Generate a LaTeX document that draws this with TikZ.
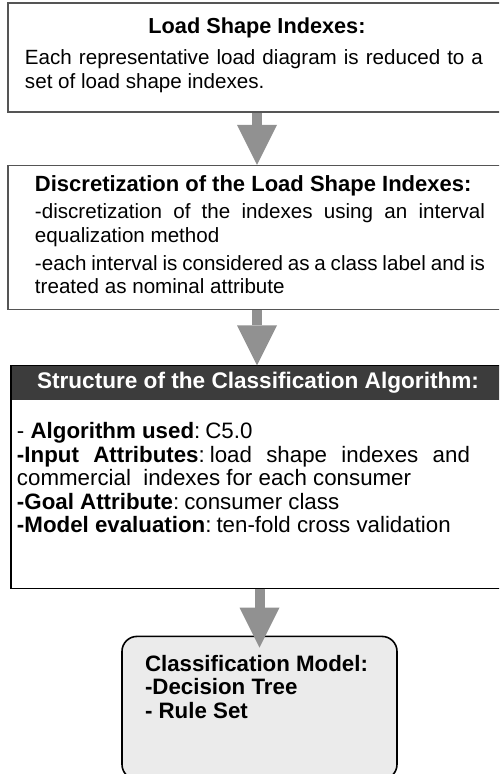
\documentclass[tikz,border=0pt]{standalone}
\usepackage{fontspec}
\setmainfont{Liberation Sans}
\usepackage{tikz}
\usetikzlibrary{arrows.meta,positioning}
\definecolor{framegray}{RGB}{85,85,85}
\definecolor{headgray}{RGB}{60,60,60}
\definecolor{arrowgray}{RGB}{145,145,145}
\definecolor{modelgray}{RGB}{235,235,235}
\setlength{\parindent}{0pt}
\newcommand{\textsize}[1]{\fontsize{#1}{23.5}\selectfont%
  \spaceskip=\fontdimen2\font plus 0.8em minus 0.1em\relax}
\newcommand{\padbottom}[1]{\par\vskip#1\hrule height0pt width0pt}

\begin{document}
\begin{tikzpicture}[x=1pt,y=1pt,node distance=52pt]
  \tikzstyle{box}=[draw=framegray,line width=1.6pt,inner xsep=0pt,inner ysep=0pt]
  \tikzstyle{flow}=[draw=arrowgray,line width=10pt,
                    -{Triangle[length=40pt 0,width=40pt 0,line width=0pt 0]}]

  \useasboundingbox (0,0) rectangle (499,-774);
  \clip (0,0) rectangle (499,-774);

  \node[box,text width=498pt,minimum height=109pt] (shape) at (257,-57.5)
    {{\textsize{21.7}\bfseries\centering Load Shape Indexes:\par}
     \vspace{8pt}
     {\textsize{20.6}\leftskip=17pt
      \makebox[458pt][s]{Each representative load diagram is reduced to a}\par
      set of load shape indexes.\par}
     \padbottom{5pt}};
  \node[box,text width=498pt,minimum height=144pt] (discr) [below=52pt of shape]
    {{\leftskip=27pt
      {\textsize{22}\bfseries Discretization of the Load Shape Indexes:\par}
      \vspace{4pt}
      \textsize{20.6}\makebox[450pt][s]{-discretization of the indexes using an interval}\par
      equalization method\par
      \vspace{4.5pt}
      \makebox[450pt][s]{-each interval is considered as a class label and is}\par
      treated as nominal attribute\par}
     \padbottom{6pt}};
  \node[box,draw=none,fill=headgray,text=white,text width=520pt,
        minimum height=34pt] (head) [below=55pt of discr,xshift=15pt]
    {\textsize{22.6}\leftskip=25pt\bfseries Structure of the Classification Algorithm:\par};
  \node[box,draw=none,text width=520pt,minimum height=186pt] (algo) [below=0pt of head]
    {{\textsize{22.3}\leftskip=5pt
      - \textbf{Algorithm used}: C5.0\par
      \makebox[453pt][s]{\textbf{-Input Attributes}: load shape indexes and}\par
      commercial~ indexes for each consumer\par
      \textbf{-Goal Attribute}: consumer class\par
      \textbf{-Model evaluation}: ten-fold cross validation\par}
     \padbottom{34pt}};
  \draw[black,line width=1.6pt] (head.north east) -| (algo.south west) -- (algo.south east);
  \node[box,draw=black,fill=modelgray,rounded corners=15pt,text width=275pt,
        minimum height=143pt] (model) [below=47pt of algo,xshift=-12.5pt]
    {{\textsize{22.3}\leftskip=23pt\bfseries
      Classification Model:\par
      -Decision Tree\par
      - Rule Set\par}
     \padbottom{42pt}};

  \path (shape) edge[flow] (discr)
        (discr) edge[flow] (discr.south |- head.north)
        (algo.south -| model) edge[flow,shorten >=-12pt] (model);
\end{tikzpicture}
\end{document}
